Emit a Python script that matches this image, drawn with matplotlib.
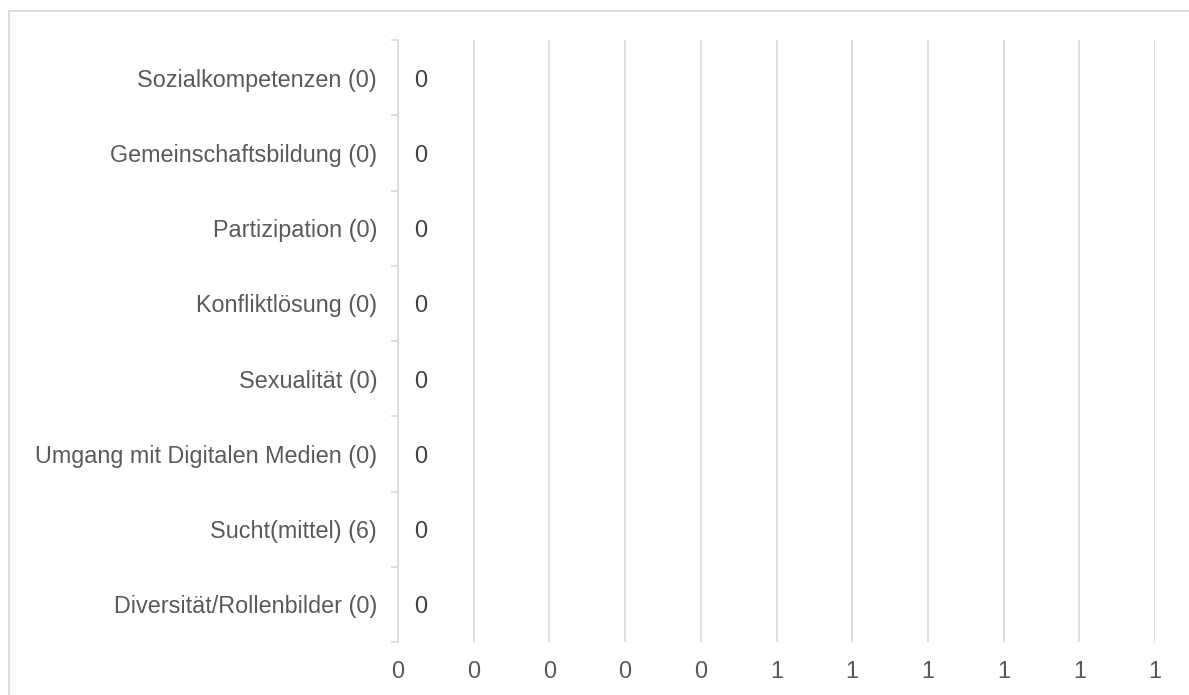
import matplotlib.pyplot as plt
from matplotlib.patches import Rectangle
from matplotlib.ticker import FixedLocator, MultipleLocator

plt.rcParams['font.family'] = ['Liberation Sans', 'DejaVu Sans']

# categories top -> bottom
categories = ["Sozialkompetenzen (0)", "Gemeinschaftsbildung (0)", "Partizipation (0)",
              "Konfliktlösung (0)", "Sexualität (0)", "Umgang mit Digitalen Medien (0)",
              "Sucht(mittel) (6)", "Diversität/Rollenbilder (0)"]
values = [0, 0, 0, 0, 0, 0, 0, 0]
x_ticks = [0, 0.1, 0.2, 0.3, 0.4, 0.5, 0.6, 0.7, 0.8, 0.9, 1.0]
x_labels = ["0", "0", "0", "0", "0", "1", "1", "1", "1", "1", "1"]

grid_col = "#d9d9d9"
text_col = "#595959"
fs = 16.8

fig = plt.figure(figsize=(11.89, 6.95), dpi=100)
fig.patches.append(Rectangle((9 / 1189, -0.1), 1.2, 1.1 - 11 / 695, transform=fig.transFigure,
                             fill=False, edgecolor=grid_col, linewidth=1.3))
ax = fig.add_axes([398 / 1189, 1 - 642 / 695, (1155 - 398) / 1189, (642 - 40) / 695])

y = list(range(len(categories)))[::-1]
bars = ax.barh(y, values, height=0.6, color="#4472c4")
for b, v in zip(bars, values):
    ax.annotate(str(v), (v, b.get_y() + b.get_height() / 2), xytext=(11.5, 0),
                textcoords="offset points", ha="left", va="center_baseline",
                fontsize=fs, color="#404040")

ax.set_ylim(-0.5, len(categories) - 0.5)
ax.set_yticks(y)
ax.set_yticklabels(categories)
ax.yaxis.set_minor_locator(MultipleLocator(1, offset=0.5))
ax.tick_params(axis="y", which="major", length=0, pad=15, labelsize=fs, labelcolor=text_col)
ax.tick_params(axis="y", which="minor", length=5, width=1.2, color=grid_col)

ax.set_xlim(0, 1)
ax.xaxis.set_major_locator(FixedLocator(x_ticks))
ax.set_xticklabels(x_labels)
ax.tick_params(axis="x", length=0, pad=13, labelsize=fs, labelcolor=text_col)
ax.grid(axis="x", color=grid_col, linewidth=1.2)
ax.set_axisbelow(True)

for s in ["top", "right", "bottom"]:
    ax.spines[s].set_visible(False)
ax.spines["left"].set_color(grid_col)
ax.spines["left"].set_linewidth(1.2)

fig.savefig("out.png", dpi=100)
